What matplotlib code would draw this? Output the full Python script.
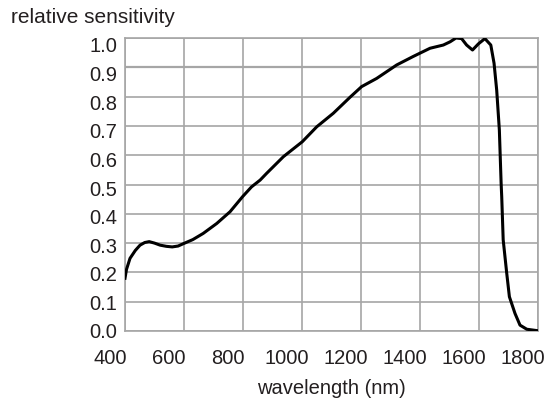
import matplotlib
matplotlib.use("Agg")
import matplotlib.pyplot as plt
import matplotlib.transforms as mtransforms

plt.rcParams['font.family'] = ['Liberation Sans', 'DejaVu Sans']

# relative Empfindlichkeit
wavelength = [400, 405, 417, 435, 451, 467, 482, 500, 519, 540, 560, 580, 600,
              630, 665, 711, 756, 799, 829, 858, 880, 937, 1001, 1050, 1106,
              1163, 1202, 1253, 1321, 1377, 1434, 1479, 1502, 1522, 1541,
              1558, 1578, 1598, 1620, 1640, 1651, 1660, 1669, 1675, 1677,
              1682, 1694, 1703, 1722, 1739, 1762, 1799]
sensitivity = [0.18, 0.21, 0.248, 0.275, 0.293, 0.302, 0.305, 0.300, 0.293,
               0.289, 0.287, 0.290, 0.299, 0.312, 0.333, 0.367, 0.407, 0.459,
               0.492, 0.515, 0.538, 0.595, 0.646, 0.697, 0.743, 0.798, 0.834,
               0.862, 0.908, 0.937, 0.965, 0.976, 0.987, 1.0, 0.998, 0.976,
               0.959, 0.980, 0.998, 0.976, 0.914, 0.822, 0.686, 0.504, 0.459,
               0.311, 0.197, 0.117, 0.060, 0.020, 0.006, 0.001]

x_ticks = [400, 600, 800, 1000, 1200, 1400, 1600, 1800]
y_ticks = [0.0, 0.1, 0.2, 0.3, 0.4, 0.5, 0.6, 0.7, 0.8, 0.9, 1.0]

grid_color = '#a6a6a6'
text_color = '#231f20'
fs = 14.5

fig = plt.figure(figsize=(5.49, 4.12), dpi=100)
ax = fig.add_axes([125 / 549, 81 / 412, 413 / 549, 293 / 412])

ax.plot(wavelength, sensitivity, color='black', linewidth=2.2, zorder=3)

ax.set_xlim(400, 1800)
ax.set_ylim(0, 1.0)
ax.set_xticks(x_ticks)
ax.set_yticks(y_ticks)
ax.set_yticklabels([f"{v:.1f}" for v in y_ticks])
ax.grid(True, color=grid_color, linewidth=1.2)
ax.get_ygridlines()[9].set_linewidth(1.6)
ax.set_axisbelow(True)
for s in ax.spines.values():
    s.set_color(grid_color)
    s.set_linewidth(1.2)

ax.tick_params(length=0, labelsize=fs, colors=text_color)
ax.tick_params(axis='x', pad=13)
ax.tick_params(axis='y', pad=5.5)

# x-Beschriftungen sitzen im Original etwas links von den Gitterlinien
shift = mtransforms.ScaledTranslation(-0.15, 0, fig.dpi_scale_trans)
for lab in ax.get_xticklabels():
    lab.set_transform(lab.get_transform() + shift)
for lab, v in zip(ax.get_yticklabels(), y_ticks):
    off = mtransforms.ScaledTranslation(0, -7 * v / 100, fig.dpi_scale_trans)
    lab.set_transform(lab.get_transform() + off)

ax.set_xlabel("wavelength (nm)", fontsize=fs, color=text_color, labelpad=8)
fig.text(11 / 549, 1 - 22.7 / 412, "relative sensitivity", fontsize=15,
         color=text_color, ha='left', va='baseline')

fig.savefig("out.png", dpi=100)
